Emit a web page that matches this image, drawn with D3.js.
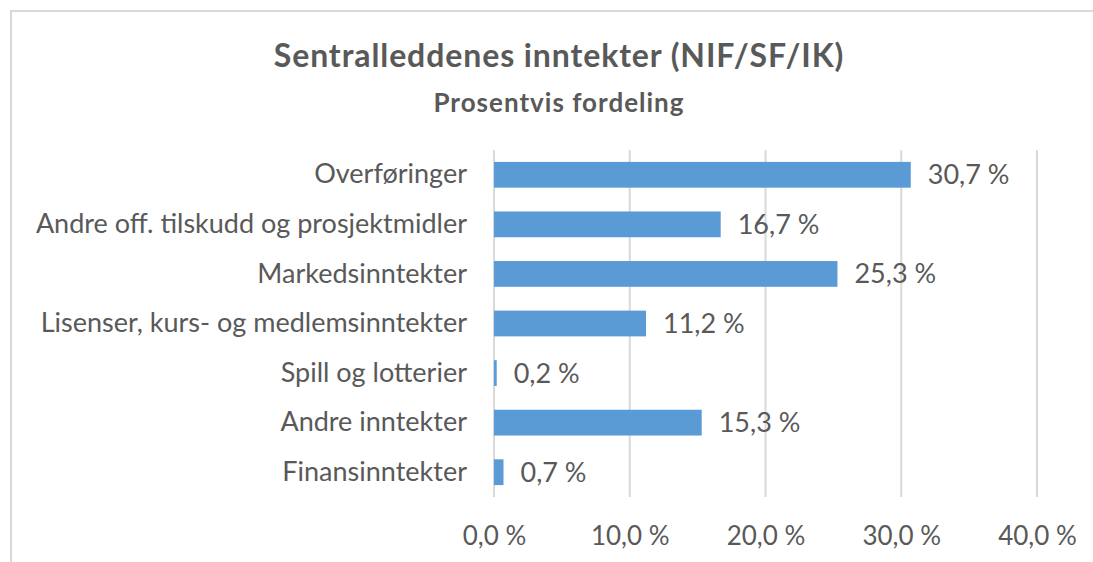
<!DOCTYPE html>
<html>
<head>
<meta charset="utf-8">
<script src="https://cdn.jsdelivr.net/npm/d3@7"></script>
<style>
  html, body { margin: 0; padding: 0; background: #fff; }
  svg text { font-family: Lato, "Open Sans", sans-serif; fill: #595959; }
</style>
</head>
<body>
<div id="chart"></div>
<script>
const width = 1093;
const height = 562;

// data
const categories = [
    "Overføringer",
    "Andre off. tilskudd og prosjektmidler",
    "Markedsinntekter",
    "Lisenser, kurs- og medlemsinntekter",
    "Spill og lotterier",
    "Andre inntekter",
    "Finansinntekter"
];
const shares = [30.7, 16.7, 25.3, 11.2, 0.2, 15.3, 0.7];
const tickValues = [0, 10, 20, 30, 40];

const fmt = v => v.toFixed(1).replace(".", ",") + " %";

const svg = d3.select("#chart")
    .append("svg")
    .attr("width", width)
    .attr("height", height);

// chart frame (only top and left edges are visible in the crop)
svg.append("path")
    .attr("d", `M11,${height} L11,11 L${width},11`)
    .attr("fill", "none")
    .attr("stroke", "#d9d9d9")
    .attr("stroke-width", 2);

svg.append("text")
    .attr("x", 559)
    .attr("y", 67)
    .attr("text-anchor", "middle")
    .style("font-size", "32px")
    .style("font-weight", "bold")
    .style("letter-spacing", "0.9px")
    .text("Sentralleddenes inntekter (NIF/SF/IK)");

svg.append("text")
    .attr("x", 559)
    .attr("y", 112)
    .attr("text-anchor", "middle")
    .style("font-size", "26px")
    .style("font-weight", "bold")
    .style("letter-spacing", "1px")
    .text("Prosentvis fordeling");

const x = d3.scaleLinear()
    .domain([0, 40])
    .range([494, 1037]);

const y = d3.scaleBand()
    .domain(categories)
    .range([150, 497])
    .paddingInner(0.48)
    .paddingOuter(0.24);

// gridlines
svg.append("g")
    .selectAll("line")
    .data(tickValues)
    .enter()
    .append("line")
    .attr("x1", d => x(d))
    .attr("x2", d => x(d))
    .attr("y1", 150)
    .attr("y2", 497)
    .attr("stroke", "#d9d9d9")
    .attr("stroke-width", 2);

// x tick labels
const xAxis = svg.append("g")
    .attr("transform", "translate(0,497)")
    .call(d3.axisBottom(x).tickValues(tickValues).tickFormat(fmt).tickSize(0).tickPadding(30));
xAxis.select(".domain").remove();
xAxis.selectAll("text")
    .style("font-size", "26px")
    .attr("fill", "#595959");

// category labels
const yAxis = svg.append("g")
    .attr("transform", "translate(494,0)")
    .call(d3.axisLeft(y).tickSize(0).tickPadding(27));
yAxis.select(".domain").remove();
yAxis.selectAll("text")
    .style("font-size", "27px")
    .attr("fill", "#595959");

// bars
svg.append("g")
    .selectAll("rect")
    .data(categories)
    .enter()
    .append("rect")
    .attr("x", x(0))
    .attr("y", d => y(d))
    .attr("width", (d, i) => x(shares[i]) - x(0))
    .attr("height", y.bandwidth())
    .attr("fill", "#5b9bd5");

// value labels
svg.append("g")
    .selectAll("text")
    .data(categories)
    .enter()
    .append("text")
    .attr("x", (d, i) => x(shares[i]) + 17)
    .attr("y", d => y(d) + y.bandwidth() / 2)
    .attr("dy", "0.35em")
    .style("font-size", "27px")
    .text((d, i) => fmt(shares[i]));
</script>
</body>
</html>
